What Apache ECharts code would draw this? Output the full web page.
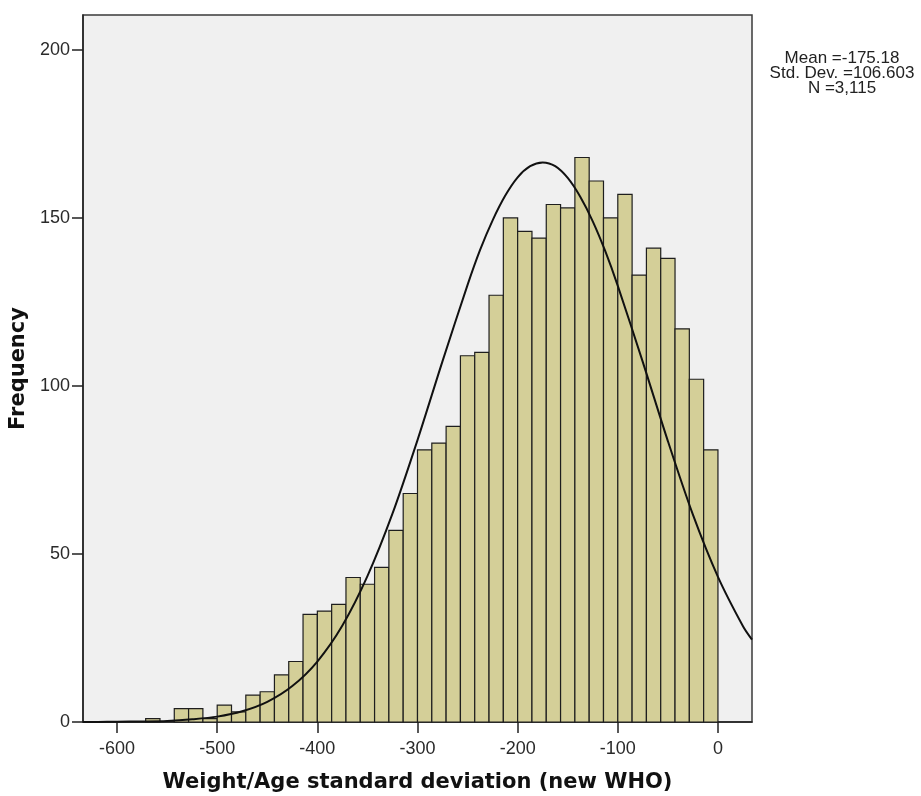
<!DOCTYPE html>
<html>
<head>
<meta charset="utf-8">
<script src="https://cdn.jsdelivr.net/npm/echarts@6/dist/echarts.min.js"></script>
<style>html,body{margin:0;padding:0;background:#fff}#c{width:921px;height:796px}</style>
</head>
<body>
<div id="c"></div>
<script>
// Histogram bins: width 100/7, first bin starts at -40*(100/7)
const binWidth = 100 / 7;
const firstBinStart = -40 * binWidth;
const counts = [1, 0, 4, 4, 1, 5, 3, 8, 9, 14, 18, 32, 33, 35, 43, 41, 46, 57, 68, 81,
                83, 88, 109, 110, 127, 150, 146, 144, 154, 153, 168, 161, 150, 157, 133, 141, 138, 117, 102, 81];
// Normal curve (x, frequency)
const curveX = [-634, -625, -600, -575, -550, -525, -500, -475, -450, -425, -400, -375, -350, -325, -300, -275,
                -250, -237.5, -225, -212.5, -200, -187.5, -175, -162.5, -150, -137.5, -125, -112.5, -100,
                -75, -50, -25, 0, 25, 34];
const curveY = [0, 0, 0.1, 0.15, 0.3, 0.8, 1.6, 3.2, 6.0, 10.7, 18.0, 28.7, 43.4, 62.0, 83.9, 107.4,
                130.1, 140.5, 149.3, 156.6, 162.1, 165.4, 166.5, 165.4, 161.9, 156.3, 149.0, 140.1, 129.8,
                107.1, 83.6, 61.7, 43.2, 28.5, 24.5];
const xTicks = [-600, -500, -400, -300, -200, -100, 0];
const yTicks = [0, 50, 100, 150, 200];
const statsLines = ['Mean =-175.18', 'Std. Dev. =106.603', 'N =3,115'];
const xTitle = 'Weight/Age standard deviation (new WHO)';
const yTitle = 'Frequency';

const barData = counts.map((c, i) => [firstBinStart + i * binWidth, firstBinStart + (i + 1) * binWidth, c]);
const curveData = curveX.map((x, i) => [x, curveY[i]]);

const chart = echarts.init(document.getElementById('c'), null, {renderer: 'canvas'});
const tickFont = {fontFamily: 'Liberation Sans, Arial, sans-serif', fontSize: 18, color: '#2a2a2a'};
chart.setOption({
  animation: false,
  backgroundColor: '#ffffff',
  grid: {left: 83, top: 15, right: 169, bottom: 74, show: true, backgroundColor: '#f0f0f0',
         borderColor: '#3a3a3a', borderWidth: 1.5, containLabel: false, outerBoundsMode: 'none'},
  xAxis: {
    type: 'value', min: -634, max: 34,
    name: xTitle, nameLocation: 'middle', nameGap: 50,
    nameTextStyle: {fontFamily: 'DejaVu Sans', fontWeight: 'bold', fontSize: 21, color: '#111'},
    axisLine: {show: true, onZero: false, lineStyle: {color: '#222', width: 1.5}},
    axisTick: {show: true, length: 11, lineStyle: {color: '#222', width: 1.5}, customValues: xTicks},
    axisLabel: Object.assign({margin: 18, customValues: xTicks}, tickFont),
    splitLine: {show: false}
  },
  yAxis: {
    type: 'value', min: 0, max: 210.4,
    name: yTitle, nameLocation: 'middle', nameGap: 42, nameRotate: 90,
    nameTextStyle: {fontFamily: 'DejaVu Sans', fontWeight: 'bold', fontSize: 21, color: '#111'},
    axisLine: {show: true, onZero: false, lineStyle: {color: '#222', width: 1.5}},
    axisTick: {show: true, length: 11, lineStyle: {color: '#222', width: 1.5}, customValues: yTicks},
    axisLabel: Object.assign({margin: 13, customValues: yTicks}, tickFont),
    splitLine: {show: false}
  },
  series: [
    {
      type: 'custom',
      data: barData,
      encode: {x: [0, 1], y: 2},
      renderItem: function (params, api) {
        const v = api.value(2);
        if (!v) return null;
        const p0 = api.coord([api.value(0), 0]);
        const p1 = api.coord([api.value(1), v]);
        return {
          type: 'rect',
          shape: {x: p0[0], y: p1[1], width: p1[0] - p0[0], height: p0[1] - p1[1]},
          style: {fill: '#d4cf98', stroke: '#1e1e1e', lineWidth: 1.2}
        };
      },
      z: 2
    },
    {
      type: 'line',
      data: curveData,
      smooth: 0.3,
      symbol: 'none',
      lineStyle: {color: '#111', width: 2},
      z: 3
    }
  ],
  graphic: statsLines.map((t, i) => ({
    type: 'text', x: 842, y: 50 + i * 15,
    style: {text: t, align: 'center', verticalAlign: 'top', fontFamily: 'Liberation Sans, Arial, sans-serif',
            fontSize: 17, fill: '#222'}
  }))
});
</script>
</body>
</html>
